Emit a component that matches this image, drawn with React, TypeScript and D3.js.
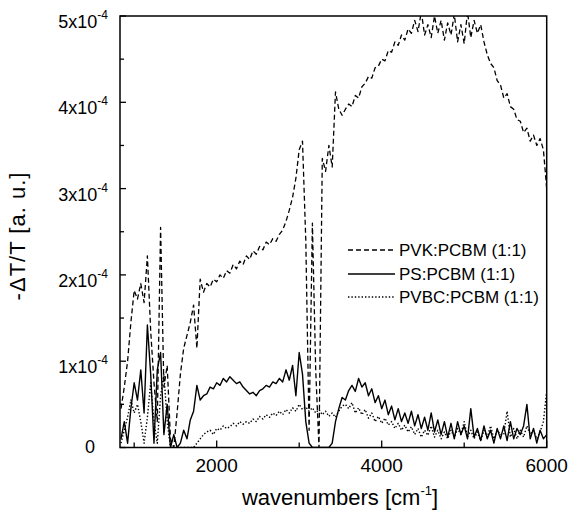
import React from "react";
import * as d3 from "d3";

const WAVENUMBERS = [
  840, 880, 920, 960, 1000, 1040, 1080, 1120, 1160, 1200,
  1240, 1280, 1320, 1360, 1400, 1440, 1480, 1520, 1560, 1600,
  1640, 1680, 1720, 1760, 1800, 1840, 1880, 1920, 1960, 2000,
  2040, 2080, 2120, 2160, 2200, 2240, 2280, 2320, 2360, 2400,
  2440, 2480, 2520, 2560, 2600, 2640, 2680, 2720, 2760, 2800,
  2840, 2880, 2920, 2960, 3000, 3040, 3080, 3120, 3160, 3200,
  3240, 3280, 3320, 3360, 3400, 3440, 3480, 3520, 3560, 3600,
  3640, 3680, 3720, 3760, 3800, 3840, 3880, 3920, 3960, 4000,
  4040, 4080, 4120, 4160, 4200, 4240, 4280, 4320, 4360, 4400,
  4440, 4480, 4520, 4560, 4600, 4640, 4680, 4720, 4760, 4800,
  4840, 4880, 4920, 4960, 5000, 5040, 5080, 5120, 5160, 5200,
  5240, 5280, 5320, 5360, 5400, 5440, 5480, 5520, 5560, 5600,
  5640, 5680, 5720, 5760, 5800, 5840, 5880, 5920, 5960, 6000,
];

// values in units of 1e-4
const PVK = [
  0.45, 0.7, 1.0, 1.45, 1.82, 1.72, 1.9, 1.68, 2.22, 1.35,
  0.75, 0.3, 2.55, 0.7, 0.95, 0.1, 0, 0.4, 0.85, 1.15,
  1.3, 1.45, 1.65, 1.15, 1.95, 1.8, 1.9, 1.86, 1.95, 1.92,
  2.0, 1.96, 2.05, 2.02, 2.12, 2.07, 2.16, 2.12, 2.22, 2.18,
  2.28, 2.24, 2.33, 2.29, 2.38, 2.35, 2.42, 2.39, 2.47, 2.52,
  2.62, 2.75, 2.9, 3.12, 3.45, 3.55, 2.4, 0.2, 2.6, 0.9,
  0, 3.35, 3.2, 3.5, 3.25, 4.12, 3.92, 3.85, 3.92, 3.98,
  3.95, 4.08, 4.05, 4.18, 4.22, 4.3, 4.28, 4.4, 4.42, 4.5,
  4.48, 4.6, 4.58, 4.7, 4.66, 4.78, 4.72, 4.85, 4.8, 4.95,
  4.82, 5.05, 4.78, 4.9, 4.75, 5.0, 4.8, 4.95, 4.72, 4.92,
  4.78, 5.02, 4.7, 4.9, 4.68, 5.05, 4.75, 4.95, 4.8, 4.9,
  4.7, 4.55, 4.45, 4.4, 4.25, 4.2, 4.05, 4.1, 3.95, 3.92,
  3.8, 3.78, 3.65, 3.7, 3.55, 3.62, 3.5, 3.58, 3.45, 3.0,
];

const PS = [
  0.1, 0.3, 0.05, 0.45, 0.75, 0.55, 0.9, 0.4, 1.42, 0.85,
  0.05, 0.9, 1.1, 0.15, 0.5, 0, 0.15, 0, 0.05, 0.2,
  0.1, 0.32, 0.42, 0.72, 0.55, 0.6, 0.62, 0.7, 0.68, 0.75,
  0.72, 0.8, 0.76, 0.82, 0.78, 0.74, 0.76, 0.7, 0.66, 0.62,
  0.64, 0.6, 0.66, 0.68, 0.72, 0.7, 0.76, 0.74, 0.8, 0.76,
  0.9, 0.78, 0.95, 0.6, 1.1, 0.85, 0.3, 0.05, 0, 0,
  0, 0, 0, 0, 0.05, 0.3, 0.45, 0.58, 0.55, 0.66,
  0.72, 0.65, 0.8, 0.7, 0.75, 0.6, 0.68, 0.52, 0.6, 0.45,
  0.55, 0.38, 0.48, 0.32, 0.45, 0.3, 0.4, 0.28, 0.42, 0.25,
  0.38, 0.22, 0.35, 0.2, 0.4, 0.18, 0.32, 0.15, 0.3, 0.12,
  0.28, 0.1, 0.3, 0.15, 0.25, 0.1, 0.45, 0.12, 0.22, 0.08,
  0.25, 0.1, 0.2, 0.05, 0.22, 0.1, 0.25, 0.08, 0.3, 0.1,
  0.22, 0.15, 0.25, 0.5, 0.1, 0.22, 0.05, 0.2, 0.1, 0.15,
];

const PVBC = [
  0.05, 0.2, 0.35, 0.55, 0.4, 0.5, 0.3, 0.05, 0.35, 0.75,
  0.3, 0.05, 0.6, 0.85, 0.3, 0, 0, 0, 0, 0,
  0, 0, 0, 0.05, 0.1, 0.15, 0.18, 0.2, 0.15, 0.22,
  0.2, 0.25, 0.22, 0.24, 0.28, 0.25, 0.3, 0.27, 0.3, 0.28,
  0.33, 0.3, 0.36, 0.33, 0.38, 0.35, 0.4, 0.37, 0.42, 0.38,
  0.44, 0.4, 0.46, 0.42, 0.5, 0.44, 0.47, 0.42, 0.46, 0.4,
  0.44, 0.38, 0.42, 0.36, 0.4, 0.35, 0.42, 0.48, 0.5, 0.45,
  0.52, 0.4, 0.46, 0.38, 0.44, 0.34, 0.4, 0.3, 0.36, 0.28,
  0.34, 0.26, 0.3, 0.22, 0.28, 0.2, 0.26, 0.18, 0.24, 0.15,
  0.22, 0.12, 0.2, 0.14, 0.25, 0.12, 0.2, 0.1, 0.18, 0.1,
  0.2, 0.12, 0.22, 0.15, 0.3, 0.12, 0.2, 0.1, 0.18, 0.08,
  0.2, 0.12, 0.25, 0.1, 0.2, 0.15, 0.15, 0.42, 0.12, 0.22,
  0.1, 0.2, 0.12, 0.25, 0.15, 0.2, 0.1, 0.18, 0.3, 0.65,
];

const SERIES_NAMES = ["PVK:PCBM (1:1)", "PS:PCBM (1:1)", "PVBC:PCBM (1:1)"];
const X_TICKS = [2000, 4000, 6000];
const X_MINOR_TICKS = [1000, 3000, 5000];
const Y_TICKS = [0, 1, 2, 3, 4, 5];
const Y_MINOR_TICKS = [0.5, 1.5, 2.5, 3.5, 4.5];

const FONT = "'Liberation Sans', Arial, Helvetica, sans-serif";

export default function App() {
  const W = 571;
  const H = 527;
  const left = 120, right = 546.7, top = 16, bottom = 447.5;
  const x = d3.scaleLinear().domain([828, 6000]).range([left, right]);
  const y = d3.scaleLinear().domain([0, 5]).range([bottom, top]);

  const mk = (vals: number[]) =>
    d3
      .line<number>()
      .x((_, i) => x(WAVENUMBERS[i]))
      .y((d) => y(d))(vals) as string;

  const series = [
    { name: SERIES_NAMES[0], vals: PVK, dash: "5,3", sw: 1.3 },
    { name: SERIES_NAMES[1], vals: PS, dash: "none", sw: 1.4 },
    { name: SERIES_NAMES[2], vals: PVBC, dash: "1.4,2", sw: 1.4 },
  ];

  const legendY = [250, 274, 297];

  return (
    <svg
      width={W}
      height={H}
      style={{ position: "absolute", left: 0, top: 0, background: "#fff" }}
      fontFamily={FONT}
    >
      <defs>
        <clipPath id="plotclip">
          <rect x={left} y={top} width={right - left} height={bottom - top} />
        </clipPath>
      </defs>
      <rect x={0} y={0} width={W} height={H} fill="#fff" />

      <g clipPath="url(#plotclip)" fill="none" stroke="#000">
        {series.map((s) => (
          <path
            key={s.name}
            d={mk(s.vals)}
            strokeWidth={s.sw}
            strokeDasharray={s.dash}
            strokeLinejoin="round"
          />
        ))}
      </g>

      {/* frame */}
      <rect
        x={left}
        y={top}
        width={right - left}
        height={bottom - top}
        fill="none"
        stroke="#000"
        strokeWidth={1.5}
      />

      {/* y ticks */}
      {Y_TICKS.map((t) => (
        <line key={"yt" + t} x1={left} x2={left + 6} y1={y(t)} y2={y(t)} stroke="#000" strokeWidth={1.3} />
      ))}
      {Y_MINOR_TICKS.map((t) => (
        <line key={"ym" + t} x1={left} x2={left + 4} y1={y(t)} y2={y(t)} stroke="#000" strokeWidth={1.3} />
      ))}
      {Y_TICKS.map((t) =>
        t === 0 ? (
          <text key={"yl" + t} x={95} y={y(t) + 5} textAnchor="end" fontSize={18}>
            0
          </text>
        ) : (
          <text key={"yl" + t} x={108} y={y(t) + 12} textAnchor="end" fontSize={18}>
            <tspan>{t + "x10"}</tspan>
            <tspan dy={-9} fontSize={12}>
              -4
            </tspan>
          </text>
        )
      )}

      {/* x ticks */}
      {X_TICKS.map((t) => (
        <line key={"xt" + t} x1={x(t)} x2={x(t)} y1={bottom} y2={bottom - 7} stroke="#000" strokeWidth={1.3} />
      ))}
      {X_MINOR_TICKS.map((t) => (
        <line key={"xm" + t} x1={x(t)} x2={x(t)} y1={bottom} y2={bottom - 5} stroke="#000" strokeWidth={1.3} />
      ))}
      {X_TICKS.map((t) => (
        <text key={"xl" + t} x={x(t)} y={472} textAnchor="middle" fontSize={19}>
          {t}
        </text>
      ))}

      {/* axis titles */}
      <text x={340} y={505} textAnchor="middle" fontSize={22}>
        <tspan>wavenumbers [cm</tspan>
        <tspan dy={-10} fontSize={13}>-1</tspan>
        <tspan dy={10}>]</tspan>
      </text>
      <text
        transform="translate(25,236) rotate(-90)"
        textAnchor="middle"
        fontSize={22}
        letterSpacing={1}
      >
        -ΔT/T [a. u.]
      </text>

      {/* legend */}
      {series.map((s, i) => (
        <g key={"lg" + i}>
          <line
            x1={348}
            x2={395}
            y1={legendY[i]}
            y2={legendY[i]}
            stroke="#000"
            strokeWidth={s.sw}
            strokeDasharray={s.dash}
          />
          <text x={399} y={legendY[i] + 6} fontSize={17}>
            {s.name}
          </text>
        </g>
      ))}
    </svg>
  );
}
